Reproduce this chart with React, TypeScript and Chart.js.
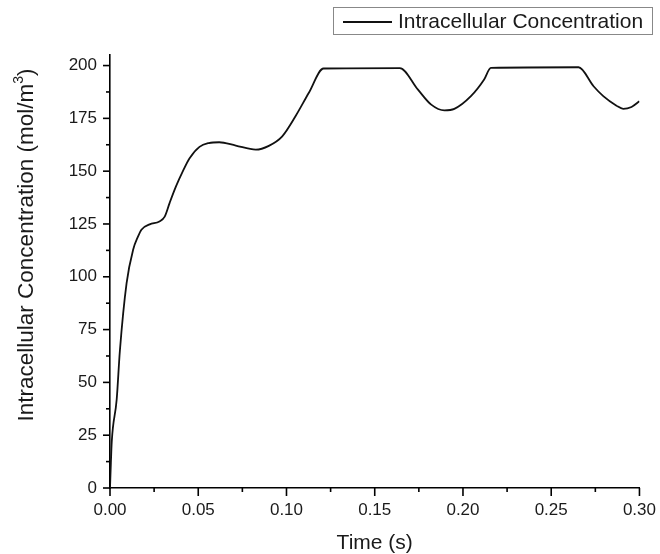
import React, { useEffect, useRef } from "react";
import { Chart, registerables } from "chart.js";

Chart.register(...registerables);

const timeS = [
  0, 0.0005, 0.001, 0.0038, 0.0056, 0.0094, 0.0131, 0.0159, 0.0178, 0.0225,
  0.028, 0.031, 0.0338, 0.0375, 0.0413, 0.045, 0.0507, 0.056, 0.0619, 0.0713,
  0.0826, 0.09, 0.0976, 0.1051, 0.1126, 0.121, 0.1642, 0.1745, 0.182, 0.1895,
  0.1951, 0.2045, 0.212, 0.2158, 0.2655, 0.274, 0.2795, 0.287, 0.2908, 0.2955,
  0.3,
];
const concentration = [
  0, 12, 22, 42, 65, 97, 112.8, 119.1, 122.3, 124.8,
  126.2, 128.5, 135, 143, 150, 156, 161.5, 163.3, 163.7, 162.1,
  160.2, 162, 166.5, 176, 187, 198.6, 198.8, 188.6, 181.5, 178.8,
  179.5, 185.5, 193.4, 198.9, 199.2, 190.2, 185.5, 181, 179.5, 180.4,
  183.1,
];
const yMajorTicks = [0, 25, 50, 75, 100, 125, 150, 175, 200];
const yMinorTicks = [12.5, 37.5, 62.5, 87.5, 112.5, 137.5, 162.5, 187.5];
const xMajorTicks = [0, 0.05, 0.1, 0.15, 0.2, 0.25, 0.3];
const xMinorTicks = [0.025, 0.075, 0.125, 0.175, 0.225, 0.275];

const seriesLabel = "Intracellular Concentration";
const xTitle = "Time (s)";
const yTitleMain = "Intracellular Concentration (mol/m";
const yTitleSup = "3";
const yTitleEnd = ")";

const FONT = "'Liberation Sans', Arial, sans-serif";
const TEXT = "#1a1a1a";

const decorPlugin = {
  id: "decor",
  afterDraw(chart: any) {
    const ctx = chart.ctx as CanvasRenderingContext2D;
    const xs = chart.scales.x;
    const ys = chart.scales.y;
    const area = chart.chartArea;
    ctx.save();
    ctx.strokeStyle = "#000";
    ctx.lineWidth = 1.6;
    const yt = (v: number, len: number) => {
      const p = ys.getPixelForValue(v);
      ctx.beginPath();
      ctx.moveTo(area.left - len, p);
      ctx.lineTo(area.left, p);
      ctx.stroke();
    };
    yMajorTicks.forEach((v) => yt(v, 7));
    yMinorTicks.forEach((v) => yt(v, 4));
    const xt = (v: number, len: number) => {
      const p = xs.getPixelForValue(v);
      ctx.beginPath();
      ctx.moveTo(p, area.bottom);
      ctx.lineTo(p, area.bottom + len);
      ctx.stroke();
    };
    xMajorTicks.forEach((v) => xt(v, 8));
    xMinorTicks.forEach((v) => xt(v, 4));

    // x title
    ctx.fillStyle = TEXT;
    ctx.font = `21px ${FONT}`;
    ctx.textAlign = "center";
    ctx.textBaseline = "middle";
    ctx.fillText(xTitle, (area.left + area.right) / 2, 543);

    // y title (rotated, with superscript)
    ctx.save();
    ctx.translate(25, 245);
    ctx.rotate(-Math.PI / 2);
    const big = `22.5px ${FONT}`;
    const small = `14px ${FONT}`;
    ctx.font = big;
    const wMain = ctx.measureText(yTitleMain).width;
    const wEnd = ctx.measureText(yTitleEnd).width;
    ctx.font = small;
    const wSup = ctx.measureText(yTitleSup).width;
    const total = wMain + wSup + wEnd;
    const x0 = -total / 2;
    ctx.textAlign = "left";
    ctx.textBaseline = "alphabetic";
    ctx.font = big;
    ctx.fillText(yTitleMain, x0, 8);
    ctx.font = small;
    ctx.fillText(yTitleSup, x0 + wMain, -2);
    ctx.font = big;
    ctx.fillText(yTitleEnd, x0 + wMain + wSup, 8);
    ctx.restore();

    // legend
    ctx.strokeStyle = "#888";
    ctx.lineWidth = 1;
    ctx.strokeRect(333.5, 7.5, 319, 27);
    ctx.strokeStyle = "#111";
    ctx.lineWidth = 1.8;
    ctx.beginPath();
    ctx.moveTo(343, 22);
    ctx.lineTo(392, 22);
    ctx.stroke();
    ctx.fillStyle = TEXT;
    ctx.font = `21px ${FONT}`;
    ctx.textAlign = "left";
    ctx.textBaseline = "middle";
    ctx.fillText(seriesLabel, 398, 22);
    ctx.restore();
  },
};

export default function App() {
  const ref = useRef<HTMLCanvasElement | null>(null);
  useEffect(() => {
    if (!ref.current) return;
    const points = timeS.map((t, i) => ({ x: t, y: concentration[i] }));
    const tickFont = { family: FONT, size: 17 };
    const chart = new Chart(ref.current, {
      type: "line",
      data: {
        datasets: [
          {
            label: seriesLabel,
            data: points,
            borderColor: "#111",
            borderWidth: 1.8,
            pointRadius: 0,
            fill: false,
            cubicInterpolationMode: "monotone",
          },
        ],
      },
      plugins: [decorPlugin],
      options: {
        responsive: false,
        animation: false,
        layout: { padding: { top: 55, right: 17, left: 0, bottom: 0 } },
        plugins: { legend: { display: false }, tooltip: { enabled: false } },
        scales: {
          x: {
            type: "linear",
            min: 0,
            max: 0.3,
            afterFit: (s: any) => {
              s.height = 66;
            },
            afterBuildTicks: (s: any) => {
              s.ticks = xMajorTicks.map((v) => ({ value: v }));
            },
            ticks: {
              callback: (v: any) => Number(v).toFixed(2),
              font: tickFont,
              color: TEXT,
              padding: 4,
              maxRotation: 0,
              autoSkip: false,
            },
            grid: { display: false, drawTicks: true, tickLength: 8 },
            border: { display: true, color: "#000", width: 1.6 },
          },
          y: {
            type: "linear",
            min: 0,
            max: 205,
            afterFit: (s: any) => {
              s.width = 110;
            },
            afterBuildTicks: (s: any) => {
              s.ticks = yMajorTicks.map((v) => ({ value: v }));
            },
            ticks: {
              callback: (v: any) => String(v),
              font: tickFont,
              color: TEXT,
              padding: 6,
              autoSkip: false,
            },
            grid: { display: false, drawTicks: true, tickLength: 7 },
            border: { display: true, color: "#000", width: 1.6 },
          },
        },
      },
    } as any);
    return () => chart.destroy();
  }, []);
  return (
    <div style={{ position: "absolute", left: 0, top: 0, width: 660, height: 554, background: "#fff" }}>
      <canvas ref={ref} width={660} height={554} style={{ width: 660, height: 554 }} />
    </div>
  );
}
